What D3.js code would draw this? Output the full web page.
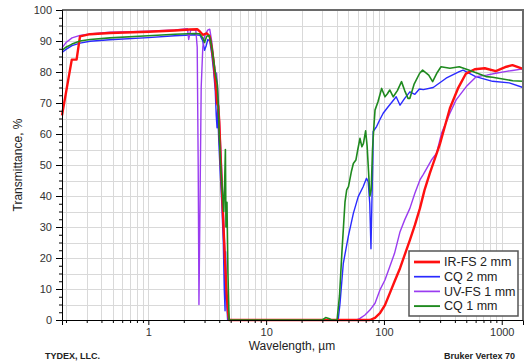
<!DOCTYPE html>
<html>
<head>
<meta charset="utf-8">
<script src="https://cdn.jsdelivr.net/npm/d3@7"></script>
<style>
  body { margin: 0; background: #fff; }
  svg { display: block; font-family: Arial, "Liberation Sans", sans-serif; }
</style>
</head>
<body>
<div id="chart"></div>
<script>
// transmission spectra, [wavelength µm, transmittance %]
const irfs2 = [
  [0.185, 66], [0.224, 84], [0.246, 84], [0.263, 91.5], [0.32, 92.2], [0.47, 92.6],
  [1.0, 93], [1.68, 93.4], [2.25, 93.7], [2.6, 93.8], [2.75, 93], [2.9, 92], [3.13, 92.5],
  [3.32, 91.5], [3.45, 88], [3.59, 83], [3.73, 76], [3.83, 70], [3.92, 69], [4.0, 64],
  [4.11, 52], [4.24, 40], [4.37, 28], [4.5, 17], [4.63, 8], [4.76, 2], [4.85, 0],
  [30, 0], [76, 0], [84, 0.7], [92.5, 2.2], [102, 4.8], [112, 8.6], [123, 12.4], [137, 16.7],
  [150, 21], [166, 25.8], [183, 30.6], [202, 36], [221, 41.9], [245, 47.3], [300, 57],
  [363, 68.3], [425, 74.7], [497, 79.5], [590, 80.9], [718, 81.2], [890, 80.3],
  [1096, 81.7], [1233, 82.2], [1515, 81]
];
const cq2 = [
  [0.185, 86.3], [0.2, 87.3], [0.225, 88.5], [0.263, 89.3], [0.32, 89.9], [0.47, 90.4],
  [1.0, 91.1], [1.68, 91.7], [2.5, 92], [2.75, 91.8], [2.9, 90], [3.0, 87], [3.1, 88.5],
  [3.2, 90.5], [3.32, 90], [3.45, 86], [3.59, 80], [3.7, 74], [3.77, 66], [3.83, 62],
  [3.88, 68], [3.96, 58], [4.07, 48], [4.2, 38], [4.33, 25], [4.41, 10], [4.48, 3],
  [4.53, 22], [4.6, 8], [4.71, 0],
  [30, 0], [40, 0], [41, 0.5], [42.4, 5.4], [45.2, 18.3], [49.8, 26.9], [55, 34.4],
  [60.5, 39.8], [66.6, 43], [71.1, 45.7], [73.5, 44.6], [75.8, 37.6], [77.6, 23],
  [79, 37.7], [80.5, 52], [81, 60.8], [86.6, 62.4], [92, 64.5], [98.5, 66.7],
  [108.6, 68.8], [118, 70.5], [127, 72], [137, 69.3], [150, 71.5], [166, 73.6],
  [183, 72.8], [200, 74.5], [216, 74.3], [262, 75], [337, 78], [436, 80.1], [470, 80.6],
  [601, 78.5], [836, 77], [1158, 76.5], [1515, 75]
];
const uvfs1 = [
  [0.185, 87.8], [0.2, 89.5], [0.225, 91], [0.263, 91.8], [0.32, 92.3], [0.47, 92.8],
  [1.0, 93.2], [1.68, 93.6], [2.15, 94], [2.2, 90.5], [2.29, 93.5], [2.53, 93.5],
  [2.6, 88], [2.65, 50], [2.69, 5], [2.75, 40], [2.81, 75], [2.9, 88], [3.0, 91.5],
  [3.19, 93.5], [3.32, 93.8], [3.45, 90], [3.59, 84], [3.7, 80], [3.8, 79.5], [3.92, 72],
  [4.04, 62], [4.16, 52], [4.28, 40], [4.4, 28], [4.53, 15], [4.67, 5], [4.8, 0],
  [30, 0], [58.7, 0], [62.6, 0.5], [69, 1.6], [76, 3.2], [84, 5.4], [92.5, 9.7],
  [102, 12.9], [112, 17.2], [123, 21.5], [137, 28.5], [150, 32.3], [166, 36], [183, 40.9],
  [202, 45.2], [216, 47], [253, 51.6], [280, 53.8], [308, 60.2], [363, 66.7], [410, 71],
  [500, 75.3], [607, 78.5], [744, 79], [890, 79.6], [1096, 80.2], [1233, 80.5], [1515, 81]
];
const cq1 = [
  [0.185, 87], [0.2, 88], [0.225, 89], [0.263, 90], [0.32, 90.5], [0.47, 91],
  [1.0, 91.7], [1.68, 92.2], [2.48, 92.4], [2.73, 92.3], [2.9, 91], [3.0, 89.5],
  [3.13, 91.5], [3.28, 91.8], [3.38, 90], [3.52, 86], [3.66, 81], [3.77, 78], [3.85, 76],
  [3.92, 70], [4.0, 60], [4.11, 50], [4.24, 42], [4.37, 35], [4.45, 45], [4.51, 55],
  [4.56, 30], [4.65, 38], [4.74, 15], [4.85, 0],
  [30, 0], [32, 0.8], [34, 0.5], [36, 0], [40, 0], [42, 8], [44, 22], [46.7, 38],
  [48.3, 42], [50, 43], [53, 48], [55, 50.5], [57.8, 51.6], [60, 55], [62.6, 58.6],
  [65, 55.9], [67, 57], [69.9, 61], [72, 56], [74, 48], [76, 40], [78, 42], [80, 55],
  [82, 62], [84, 67.7], [89, 70.4], [95.6, 74.7], [102, 72], [107, 73], [112, 74.2],
  [120, 72], [130, 74], [141, 76.9], [150, 74], [160, 71.5], [166, 71.5], [180, 76],
  [201, 79.6], [213, 80.6], [240, 79], [259, 76.9], [280, 79.5], [305, 81.7], [363, 81.2],
  [436, 81.7], [531, 80.6], [744, 78.5], [836, 78.3], [1240, 77.2], [1515, 77]
];

const seriesNames = ["IR-FS 2 mm", "CQ 2 mm", "UV-FS 1 mm", "CQ 1 mm"];
const seriesData = [irfs2, cq2, uvfs1, cq1];
const seriesColors = ["#ff1010", "#2a2aff", "#9a3cf0", "#1f8a1f"];
const seriesWidths = [2.4, 1.4, 1.4, 1.6];
// paint order: blue, purple, red, green on top
const drawOrder = [1, 2, 0, 3];

const xMajor = [1, 10, 100, 1000];
const yMajor = [0, 10, 20, 30, 40, 50, 60, 70, 80, 90, 100];

const width = 526, height = 363;
const margin = { top: 10, right: 3, bottom: 43, left: 62 };

const svg = d3.select("#chart")
  .append("svg")
  .attr("width", width)
  .attr("height", height);

const x = d3.scaleLog()
  .domain([0.185, 1515])
  .range([margin.left, width - margin.right]);

const y = d3.scaleLinear()
  .domain([0, 100])
  .range([height - margin.bottom, margin.top]);

// every 1..9 x 10^k inside the domain
const xMinor = [];
for (let p = -1; p <= 3; p++) {
  for (let m = 1; m <= 9; m++) {
    const v = m * Math.pow(10, p);
    if (v >= x.domain()[0] && v <= x.domain()[1]) xMinor.push(v);
  }
}

const grid = svg.append("g").attr("stroke", "#d9d9d9").attr("stroke-width", 1);
grid.selectAll(".vg")
  .data(xMinor)
  .enter()
  .append("line")
  .attr("x1", d => Math.round(x(d)) + 0.5)
  .attr("x2", d => Math.round(x(d)) + 0.5)
  .attr("y1", y(100))
  .attr("y2", y(0));
grid.selectAll(".hg")
  .data(d3.range(5, 100, 5))
  .enter()
  .append("line")
  .attr("x1", x.range()[0])
  .attr("x2", x.range()[1])
  .attr("y1", d => Math.round(y(d)) + 0.5)
  .attr("y2", d => Math.round(y(d)) + 0.5);

// curves
const line = d3.line()
  .x(d => x(d[0]))
  .y(d => y(d[1]));

const curves = svg.append("g")
  .attr("fill", "none")
  .attr("stroke-linejoin", "round");
drawOrder.forEach(i => {
  curves.append("path")
    .datum(seriesData[i])
    .attr("d", line)
    .attr("stroke", seriesColors[i])
    .attr("stroke-width", seriesWidths[i]);
});

// frame: top and right in grey
svg.append("path")
  .attr("d", `M${x.range()[0]},${y(100)}H${x.range()[1]}V${y(0)}`)
  .attr("fill", "none")
  .attr("stroke", "#6a6a6a")
  .attr("stroke-width", 2);

// axes
const yAxis = svg.append("g")
  .attr("transform", `translate(${margin.left},0)`)
  .call(d3.axisLeft(y).tickValues(yMajor).tickSize(6).tickPadding(4));
svg.append("g")
  .attr("transform", `translate(${margin.left},0)`)
  .call(d3.axisLeft(y).tickValues(d3.range(0, 100.1, 2.5).filter(v => v % 10 !== 0)).tickSize(3).tickFormat(""))
  .select(".domain").remove();

const xAxis = svg.append("g")
  .attr("transform", `translate(0,${y(0)})`)
  .call(d3.axisBottom(x).tickValues(xMajor).tickFormat(d3.format("d")).tickSize(5).tickPadding(3));
svg.append("g")
  .attr("transform", `translate(0,${y(0)})`)
  .call(d3.axisBottom(x).tickValues(xMinor.filter(v => !xMajor.includes(v))).tickSize(3).tickFormat(""))
  .select(".domain").remove();

svg.selectAll(".tick text")
  .attr("fill", "#333")
  .style("font-size", "11px")
  .style("font-family", "Arial, 'Liberation Sans', sans-serif");
yAxis.selectAll(".tick text").attr("dy", "0.35em");

// axis titles
svg.append("text")
  .attr("transform", `translate(22,${(y(0) + y(100)) / 2}) rotate(-90)`)
  .attr("text-anchor", "middle")
  .attr("fill", "#222")
  .style("font-size", "12px")
  .text("Transmittance, %");

svg.append("text")
  .attr("x", 292)
  .attr("y", 350)
  .attr("text-anchor", "middle")
  .attr("fill", "#222")
  .style("font-size", "12px")
  .text("Wavelength, µm");

svg.append("text")
  .attr("x", 45)
  .attr("y", 359)
  .attr("fill", "#222")
  .style("font-size", "9px")
  .style("font-weight", "bold")
  .text("TYDEX, LLC.");

svg.append("text")
  .attr("x", 515)
  .attr("y", 359)
  .attr("text-anchor", "end")
  .attr("fill", "#222")
  .style("font-size", "9px")
  .style("font-weight", "bold")
  .text("Bruker Vertex 70");

// legend
const legend = svg.append("g").attr("transform", "translate(409,251)");
legend.append("rect")
  .attr("width", 109)
  .attr("height", 65)
  .attr("fill", "#fff")
  .attr("stroke", "#555")
  .attr("stroke-width", 1.5);

const item = legend.selectAll(".item")
  .data(seriesNames)
  .enter()
  .append("g")
  .attr("transform", (d, i) => `translate(0,${11 + i * 14.7})`);
item.append("line")
  .attr("x1", 5)
  .attr("x2", 31)
  .attr("stroke", (d, i) => seriesColors[i])
  .attr("stroke-width", (d, i) => seriesWidths[i] + 0.3);
item.append("text")
  .attr("x", 35)
  .attr("dy", "0.35em")
  .attr("fill", "#222")
  .style("font-size", "12.5px")
  .text(d => d);
</script>
</body>
</html>
